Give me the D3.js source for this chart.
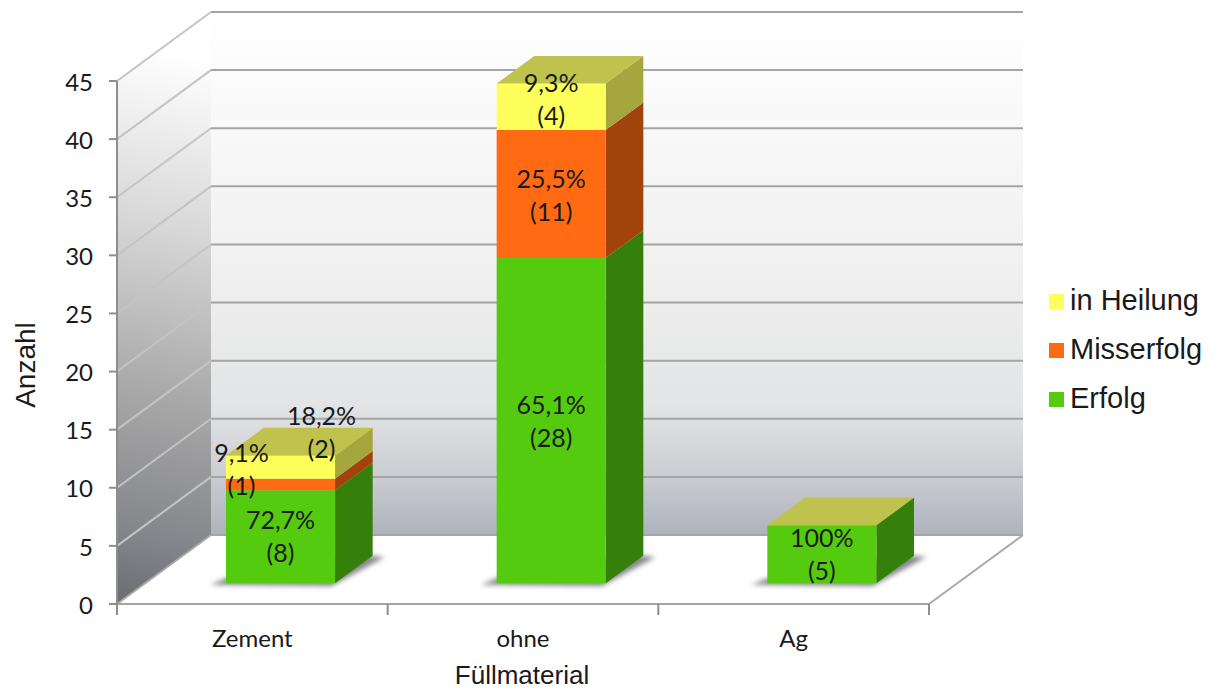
<!DOCTYPE html>
<html>
<head>
<meta charset="utf-8">
<script src="https://cdnjs.cloudflare.com/ajax/libs/d3/7.8.5/d3.min.js"></script>
<style>
html, body { margin: 0; padding: 0; background: #fff; }
svg { display: block; }
text { fill: #1a1a1a; }
</style>
</head>
<body>
<svg id="chart" width="1218" height="690"></svg>
<script>
// Treatment outcome counts per filling material
const categories = ["Zement", "ohne", "Ag"];
const erfolg = [8, 28, 5];
const misserfolg = [1, 11, 0];
const inHeilung = [2, 4, 0];
const erfolgLabels = ["72,7%", "65,1%", "100%"];
const misserfolgLabels = ["9,1%", "25,5%", ""];
const inHeilungLabels = ["18,2%", "9,3%", ""];
const yTicks = [0, 5, 10, 15, 20, 25, 30, 35, 40, 45];

const seriesNames = ["Erfolg", "Misserfolg", "in Heilung"];
const front = { Erfolg: "#55cb0f", Misserfolg: "#ff6a13", "in Heilung": "#ffff5c" };
const side = { Erfolg: "#35800a", Misserfolg: "#a1440b", "in Heilung": "#a6a63f" };
const topFace = { Erfolg: "#c0c24e", Misserfolg: "#c0c24e", "in Heilung": "#c0c24e" };

const svg = d3.select("#chart");
const defs = svg.append("defs");

// Oblique projection: depth 0 is the front edge of the floor, depth 1 the back wall
const x = d3.scaleBand().domain(categories).range([117, 929]);
const y = d3.scaleLinear().domain([0, 45]).range([604, 81]);
const depthX = d3.scaleLinear().domain([0, 1]).range([0, 94]);
const depthY = d3.scaleLinear().domain([0, 1]).range([0, -69]);
const project = (px, value, depth) => [px + depthX(depth), y(value) + depthY(depth)];
const pathOf = pts => "M" + pts.map(p => p.join(",")).join("L") + "Z";

const wallGrad = defs.append("linearGradient").attr("id", "wall")
  .attr("x1", 0).attr("y1", 0).attr("x2", 0).attr("y2", 1);
[[0, "#ffffff"], [0.5, "#f0f0f0"], [0.75, "#e3e4e5"], [0.88, "#ccced3"], [1, "#aeb2bc"]]
  .forEach(([o, c]) => wallGrad.append("stop").attr("offset", o).attr("stop-color", c));

const sideGrad = defs.append("linearGradient").attr("id", "sidewall")
  .attr("gradientUnits", "userSpaceOnUse")
  .attr("x1", 210).attr("y1", 60).attr("x2", 80).attr("y2", 610);
[[0, "#ffffff"], [0.3, "#d8d8d8"], [0.6, "#a8a8a8"], [0.85, "#84858a"], [1, "#66676c"]]
  .forEach(([o, c]) => sideGrad.append("stop").attr("offset", o).attr("stop-color", c));

const shadowBlur = defs.append("filter").attr("id", "soft")
  .attr("x", "-30%").attr("y", "-30%").attr("width", "160%").attr("height", "160%");
shadowBlur.append("feGaussianBlur").attr("stdDeviation", 2.6);

const x0 = x.range()[0], x1 = x.range()[1];
const yMax = y.domain()[1];

// Back wall and side wall
svg.append("path")
  .attr("d", pathOf([project(x0, 0, 1), project(x1, 0, 1), project(x1, yMax, 1), project(x0, yMax, 1)]))
  .attr("fill", "url(#wall)");
svg.append("path")
  .attr("d", pathOf([project(x0, 0, 0), project(x0, 0, 1), project(x0, yMax, 1), project(x0, yMax, 0)]))
  .attr("fill", "url(#sidewall)");

// Gridlines run along the side wall and across the back wall
const grid = svg.append("g").attr("fill", "none").attr("stroke-width", 2);
yTicks.forEach(t => {
  const a = project(x0, t, 0), b = project(x0, t, 1), c = project(x1, t, 1);
  grid.append("path").attr("d", `M${a}L${b}`).attr("stroke", t === 0 ? "#aaaaaa" : "#c4c4c4");
  grid.append("path").attr("d", `M${b}L${c}`).attr("stroke", "#a4a4a4");
});
// Floor edges
grid.append("path")
  .attr("d", `M${project(x1, 0, 0)}L${project(x1, 0, 1)}`)
  .attr("stroke", "#a9a9a9");
grid.append("path")
  .attr("d", `M${project(x0, 0, 0)}L${project(x1, 0, 0)}`)
  .attr("stroke", "#a3a3a3");

// Value axis and category ticks
const axes = svg.append("g").attr("stroke", "#8e8e8e").attr("stroke-width", 2).attr("fill", "none");
axes.append("path").attr("d", `M${x0},${y(0)}V${y(yMax)}`);
yTicks.forEach(t => axes.append("path").attr("d", `M${x0 - 8},${y(t)}H${x0}`));
d3.range(categories.length + 1).forEach(i => {
  const px = x0 + i * x.bandwidth();
  axes.append("path").attr("d", `M${px},${y(0)}v11`);
});

svg.append("g").selectAll("text").data(yTicks).join("text")
  .attr("x", x0 - 24).attr("y", d => y(d) + 1).attr("dy", "0.36em")
  .attr("text-anchor", "end")
  .attr("font-family", "Lato").attr("font-size", 24)
  .text(d => d);

svg.append("g").selectAll("text").data(categories).join("text")
  .attr("x", d => x(d) + x.bandwidth() / 2).attr("y", 647)
  .attr("text-anchor", "middle")
  .attr("font-family", "Lato").attr("font-size", 24)
  .text(d => d);

svg.append("text").attr("x", 522).attr("y", 684).attr("text-anchor", "middle")
  .attr("font-family", "Liberation Sans").attr("font-size", 26).text("Füllmaterial");
svg.append("text").attr("transform", "translate(35,365) rotate(-90)").attr("text-anchor", "middle")
  .attr("font-family", "Liberation Sans").attr("font-size", 28).text("Anzahl");

// Stacked cuboids
const stackValues = [erfolg, misserfolg, inHeilung];
const labelSets = [erfolgLabels, misserfolgLabels, inHeilungLabels];
const barDepthStart = 0.3, barDepthEnd = 0.7;
const barWidth = x.bandwidth() * 0.403;

const bars = svg.append("g");
categories.forEach((cat, i) => {
  const left = x(cat) + (x.bandwidth() - barWidth) / 2;
  const right = left + barWidth;

  // Cast shadow on the floor
  bars.append("path")
    .attr("d", pathOf([
      project(left - 14, 0, barDepthStart - 0.02),
      project(right, 0, barDepthStart - 0.04),
      project(right + 14, 0, barDepthEnd - 0.02),
      project(right - 4, 0, barDepthEnd),
      project(left + 4, 0, barDepthStart + 0.2)
    ]))
    .attr("fill", "#85858a").attr("filter", "url(#soft)");

  let base = 0;
  seriesNames.forEach((name, s) => {
    const v = stackValues[s][i];
    if (!v) return;
    const top = base + v;
    bars.append("path")
      .attr("d", pathOf([project(right, base, barDepthStart), project(right, base, barDepthEnd),
        project(right, top, barDepthEnd), project(right, top, barDepthStart)]))
      .attr("fill", side[name]);
    bars.append("path")
      .attr("d", pathOf([project(left, base, barDepthStart), project(right, base, barDepthStart),
        project(right, top, barDepthStart), project(left, top, barDepthStart)]))
      .attr("fill", front[name]);
    base = top;
  });
  const last = seriesNames.filter((n, s) => stackValues[s][i] > 0).pop();
  bars.append("path")
    .attr("d", pathOf([project(left, base, barDepthStart), project(right, base, barDepthStart),
      project(right, base, barDepthEnd), project(left, base, barDepthEnd)]))
    .attr("fill", topFace[last]);
});

// Data labels: percentage above count, nudged where a segment is too thin to hold them
const labelOffsets = [
  [[0, -2], [-39, -17], [41, -36]],
  [[0, -1], [0, 0], [0, -9]],
  [[0, -1], [0, -1], [0, 0]]
];
const labels = svg.append("g").attr("font-family", "Lato").attr("font-size", 25).attr("text-anchor", "middle");
categories.forEach((cat, i) => {
  const cx = x(cat) + x.bandwidth() / 2 + depthX(barDepthStart);
  let base = 0;
  stackValues.forEach((vals, s) => {
    const v = vals[i];
    if (!v) return;
    const mid = y(base + v / 2) + depthY(barDepthStart);
    const [dx, dy] = labelOffsets[i][s];
    labels.append("text").attr("x", cx + dx).attr("y", mid + dy - 6).text(labelSets[s][i]);
    labels.append("text").attr("x", cx + dx).attr("y", mid + dy + 27).text(`(${v})`);
    base += v;
  });
});

// Legend, listed top to bottom in reverse stacking order
const legend = svg.append("g");
seriesNames.slice().reverse().forEach((name, i) => {
  const ly = 301 + i * 49;
  legend.append("rect").attr("x", 1049).attr("y", ly - 7).attr("width", 15).attr("height", 15).attr("fill", front[name]);
  legend.append("text").attr("x", 1070).attr("y", ly - 1).attr("dy", "0.36em")
    .attr("font-family", "Liberation Sans").attr("font-size", 29).text(name);
});
</script>
</body>
</html>
